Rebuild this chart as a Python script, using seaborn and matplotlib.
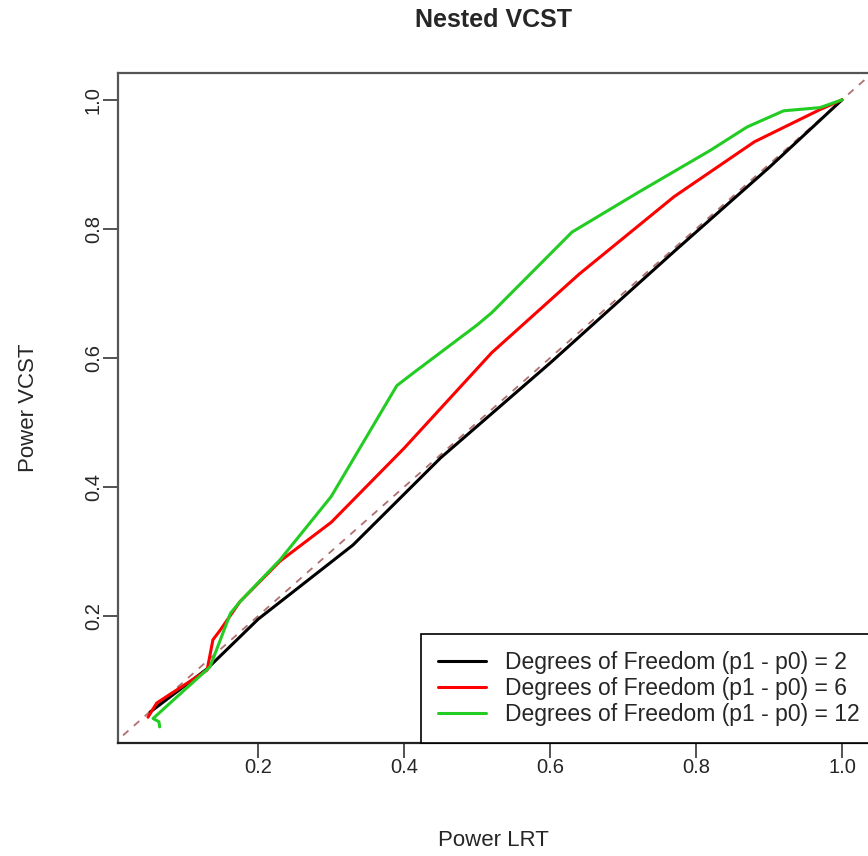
import numpy as np
import pandas as pd
import matplotlib
matplotlib.use("Agg")
import matplotlib.pyplot as plt
import seaborn as sns

# Power curves (LRT power vs VCST power)
df2_lrt = [0.052, 0.13, 0.20, 0.33, 0.45, 0.60, 0.77, 0.90, 1.00]
df2_vcst = [0.051, 0.118, 0.195, 0.31, 0.445, 0.592, 0.765, 0.895, 1.00]

df6_lrt = [0.049, 0.061, 0.13, 0.138, 0.148, 0.175, 0.23, 0.30, 0.40, 0.52, 0.64, 0.77, 0.88, 0.97, 1.00]
df6_vcst = [0.043, 0.065, 0.116, 0.163, 0.178, 0.222, 0.285, 0.345, 0.46, 0.608, 0.73, 0.85, 0.935, 0.985, 1.00]

df12_lrt = [0.065, 0.064, 0.056, 0.134, 0.162, 0.175, 0.23, 0.30, 0.39, 0.413, 0.50, 0.52, 0.63, 0.72, 0.82, 0.87, 0.92, 0.97, 1.00]
df12_vcst = [0.028, 0.036, 0.041, 0.121, 0.204, 0.222, 0.287, 0.385, 0.557, 0.577, 0.651, 0.67, 0.795, 0.856, 0.922, 0.958, 0.983, 0.988, 1.00]

labels = ["Degrees of Freedom (p1 - p0) = 2",
          "Degrees of Freedom (p1 - p0) = 6",
          "Degrees of Freedom (p1 - p0) = 12"]
colors = ["black", "#FF0000", "#22CC22"]

frames = []
for lab, xs, ys in zip(labels, [df2_lrt, df6_lrt, df12_lrt], [df2_vcst, df6_vcst, df12_vcst]):
    frames.append(pd.DataFrame({"lrt": xs, "vcst": ys, "series": lab}))
data = pd.concat(frames, ignore_index=True)

sns.set_style("white")
plt.rcParams["font.family"] = ["Liberation Sans", "DejaVu Sans"]

fig = plt.figure(figsize=(8.68, 8.56), dpi=100)
ax = fig.add_axes([0.136, 0.132, 0.866, 0.783])

# reference diagonal
ax.plot([0, 1.1], [0, 1.1], linestyle=(0, (4, 4)), color="#B07070", lw=1.3, zorder=1)

sns.lineplot(data=data, x="lrt", y="vcst", hue="series", hue_order=labels,
             palette=colors, sort=False, estimator=None, units="series",
             lw=2.2, ax=ax, zorder=2)

ax.set_xlim(0.008, 1.038)
ax.set_ylim(0.003, 1.042)
ax.set_xticks([0.2, 0.4, 0.6, 0.8, 1.0])
ax.set_yticks([0.2, 0.4, 0.6, 0.8, 1.0])
ax.set_xticklabels(["0.2", "0.4", "0.6", "0.8", "1.0"])
ax.set_yticklabels(["0.2", "0.4", "0.6", "0.8", "1.0"], rotation=90, va="center")
ax.tick_params(axis="both", direction="out", length=11, width=1.3, color="#444444",
               labelsize=14.5, pad=0, left=True, bottom=True)

for side in ["left", "top", "bottom", "right"]:
    ax.spines[side].set_color("#555555")
    ax.spines[side].set_linewidth(1.6)
ax.spines["bottom"].set_color("#222222")

fig.text(0.568, 0.977, "Nested VCST", fontsize=18, fontweight="bold", ha="center", va="center")
ax.set_xlabel("Power LRT", fontsize=16, labelpad=38)
ax.set_ylabel("Power VCST", fontsize=16, labelpad=32)

leg = ax.legend(loc="lower left", bbox_to_anchor=(0.403, 0.0), borderaxespad=0,
                fontsize=16.5, frameon=True, fancybox=False, framealpha=1,
                handlelength=2.1, handletextpad=0.8, borderpad=0.75, labelspacing=0.12)
leg.get_frame().set_edgecolor("black")
leg.get_frame().set_linewidth(1.2)
for line in leg.get_lines():
    line.set_linewidth(2.2)

fig.savefig("out.png", dpi=100)
